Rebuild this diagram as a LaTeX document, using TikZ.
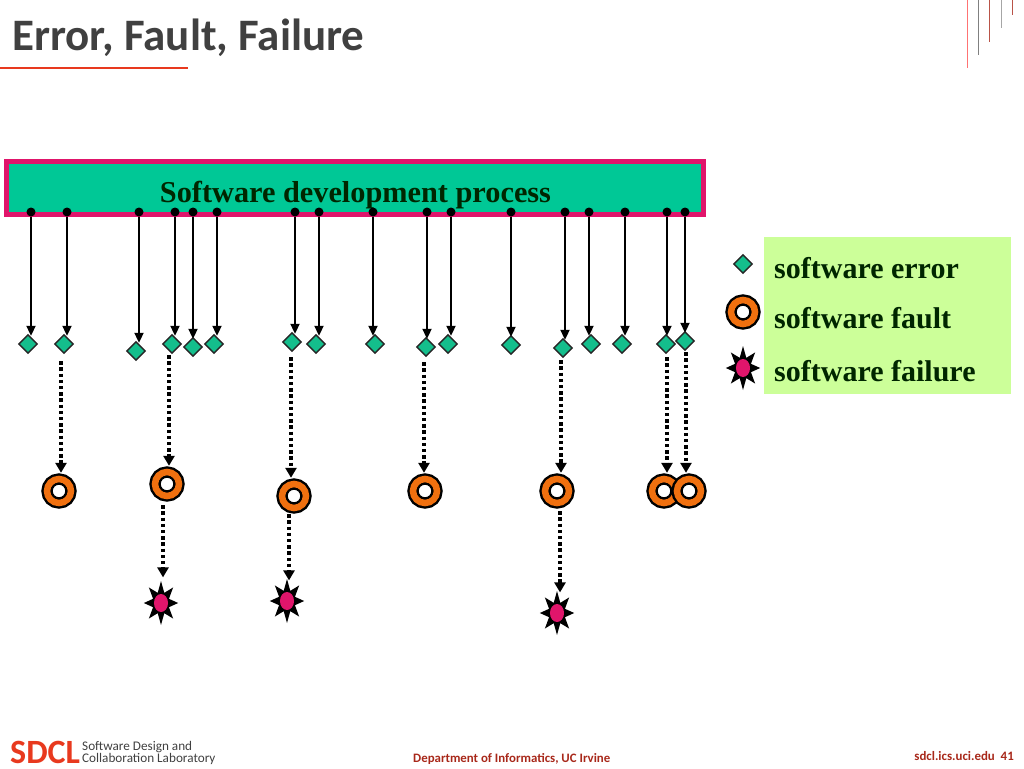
\documentclass[tikz,border=0pt]{standalone}
\usepackage{fontspec}
\setmainfont{Liberation Serif}
\newfontfamily\slidefont{Carlito}
\usetikzlibrary{arrows.meta,shapes.geometric}
\definecolor{barpink}{HTML}{E0156B}
\definecolor{bargreen}{HTML}{00C896}
\definecolor{legendgreen}{HTML}{CCFF99}
\definecolor{errgreen}{HTML}{14BE8C}
\definecolor{ringorange}{HTML}{F0700F}
\definecolor{sdclred}{HTML}{E8391E}
\definecolor{sdcldark}{HTML}{A8281A}
\definecolor{titlegrey}{HTML}{404040}
\tikzset{
    barbox/.style={draw=barpink, line width=5pt, fill=bargreen, minimum width=697pt, minimum height=53pt, inner sep=0pt},
    legendbox/.style={fill=legendgreen, minimum width=247pt, minimum height=157pt, inner sep=0pt},
    tapdot/.style={circle, fill=black, minimum size=9pt, inner sep=0pt},
    errnode/.style={diamond, draw=black!85, line width=1.4pt, fill=errgreen, minimum size=19pt, inner sep=0pt},
    faultnode/.style={circle, draw=black, double=ringorange, double distance=6.5pt, line width=2.4pt, fill=white, minimum size=24pt, inner sep=0pt},
    failnode/.style={star, star points=8, star point ratio=2, fill=black, minimum size=44pt, inner sep=0pt, xscale=.78, transform shape,
        path picture={\fill[barpink] (path picture bounding box.center) ellipse (9pt and 9pt);}},
    errline/.style={line width=2pt, shorten >=-2pt, -{Triangle[width=9pt,length=10pt]}},
    faultline/.style={line width=3.6pt, dash pattern=on 3.4pt off 2.8pt, -{Triangle[width=11pt,length=10pt]}},
    legendtext/.style={font=\bfseries\fontsize{30}{30}\selectfont, text=black!85!green, anchor=base west, inner sep=0pt},
    toprule/.style={line width=1pt}
}
\begin{document}
\begin{tikzpicture}[x=1pt,y=-1pt]
    \useasboundingbox (0,0) rectangle (1024,768);

    % slide frame
    \node[anchor=base west, inner sep=0pt, text=titlegrey, font=\slidefont\bfseries\fontsize{45}{45}\selectfont] (title) at (12,50) {Error, Fault, Failure};
    \coordinate (ulineA) at (0,68);
    \coordinate (ulineB) at (188,68);
    \draw[sdclred, line width=1.5pt] (ulineA) -- (ulineB);
    \foreach \x/\l/\c in {967/68/red!55, 978/55/gray, 989/42/sdcldark!80, 1001/28/gray!70, 1012/15/sdcldark!80}
        \draw[toprule, \c] (\x,0) -- (\x,\l);

    % process bar
    \node[barbox] (bar) at (355,187.5) {};
    \node[anchor=base, font=\bfseries\fontsize{30.3}{30}\selectfont, text=black!85!green, inner sep=0pt] (barlabel) at (355.5,202) {Software development process};

    % software errors
    \foreach \i/\x/\ex/\ey in {1/31/28/344, 2/67/64/344, 3/139/136/351, 4/175/172/344, 5/193/193/347, 6/217/214/344,
        7/295/292/342, 8/319/316/344, 9/373/375/344, 10/427/426/347, 11/451/448/344, 12/511/511/345,
        13/565/563/348, 14/589/591/344, 15/625/622/344, 16/667/666/344, 17/685/685/341} {
        \node[tapdot] (t\i) at (\x,212) {};
        \node[errnode] (e\i) at (\ex,\ey) {};
        \draw[errline] (t\i) -- (t\i |- e\i.north);
    }

    % software faults
    \foreach \i/\x/\y in {1/59/491, 2/167/484, 3/294/496, 4/425/491, 5/557/491, 6/664/491, 7/689/491}
        \node[faultnode] (f\i) at (\x,\y) {};
    \foreach \e/\f/\x/\g in {2/1/61/7, 4/2/169/1, 7/3/291/5, 10/4/424/5, 13/5/561/2, 16/6/667/3, 17/7/686/1}
        \draw[faultline, shorten <=\g pt, shorten >=5pt] (\x,0 |- e\e.south) -- (\x,0 |- f\f.north);

    % software failures
    \foreach \i/\x/\y in {1/161/603, 2/287/601, 3/557/613}
        \node[failnode] (x\i) at (\x,\y) {};
    \foreach \f/\s/\x/\g/\h in {2/1/163/8/3, 3/2/289/5/-2, 5/3/560/7/-2}
        \draw[faultline, shorten <=\g pt, shorten >=\h pt] (\x,0 |- f\f.south) -- (\x,0 |- x\s.north);

    % legend
    \node[legendbox] (legend) at (887.5,315.5) {};
    \node[errnode] (legE) at (743,264) {};
    \node[faultnode] (legF) at (743,312) {};
    \node[failnode] (legX) at (743,368) {};
    \node[legendtext] (legEtext) at (774,278) {software error};
    \node[legendtext] (legFtext) at (774,328) {software fault};
    \node[legendtext] (legXtext) at (774,381) {software failure};

    % footer
    \node[anchor=base west, inner sep=0pt, text=sdclred, font=\slidefont\bfseries\fontsize{34}{34}\selectfont] (sdcl) at (10,763) {SDCL};
    \node[anchor=south west, inner sep=0pt, align=left, text=titlegrey, font=\slidefont\fontsize{13.2}{12.5}\selectfont] (lab) at (82,765) {Software Design and\\Collaboration Laboratory};
    \node[anchor=base west, inner sep=0pt, text=sdcldark, font=\slidefont\bfseries\fontsize{12.85}{13}\selectfont] (dept) at (413,762) {Department of Informatics, UC Irvine};
    \node[anchor=base east, inner sep=0pt, text=sdcldark, font=\slidefont\bfseries\fontsize{12.9}{13}\selectfont] (site) at (1014,760) {sdcl.ics.uci.edu\ \ 41};
\end{tikzpicture}
\end{document}
